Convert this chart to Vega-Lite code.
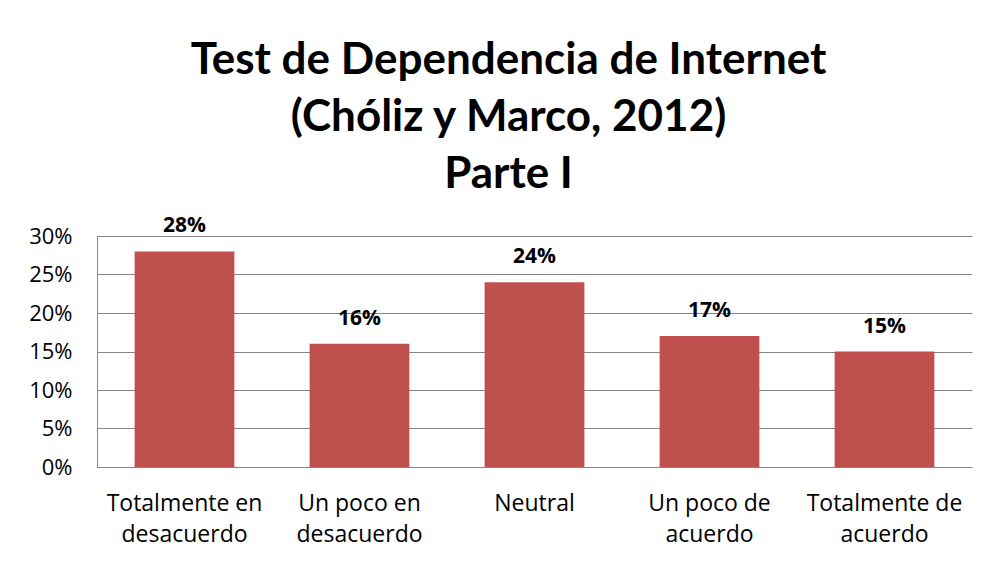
{
  "$schema": "https://vega.github.io/schema/vega-lite/v6.json",
  "width": 875,
  "height": 231,
  "autosize": "none",
  "padding": {"left": 97, "top": 236, "right": 21, "bottom": 95},
  "background": "white",
  "title": {
    "text": ["Test de Dependencia de Internet", "(Chóliz y Marco, 2012)", "Parte I"],
    "font": "Lato",
    "fontSize": 44,
    "fontWeight": "bold",
    "color": "#000000",
    "lineHeight": 57,
    "anchor": "middle",
    "dx": -26,
    "offset": 18
  },
  "data": {
    "values": [
      {"categoria": "Totalmente en desacuerdo", "porcentaje": 0.28},
      {"categoria": "Un poco en desacuerdo", "porcentaje": 0.16},
      {"categoria": "Neutral", "porcentaje": 0.24},
      {"categoria": "Un poco de acuerdo", "porcentaje": 0.17},
      {"categoria": "Totalmente de acuerdo", "porcentaje": 0.15}
    ]
  },
  "encoding": {
    "x": {
      "field": "categoria",
      "type": "nominal",
      "sort": null,
      "scale": {"paddingInner": 0.43, "paddingOuter": 0.215},
      "axis": {
        "title": null,
        "labelAngle": 0,
        "labelFont": "Open Sans",
        "labelFontSize": 23,
        "labelColor": "#000000",
        "labelLineHeight": 31,
        "labelPadding": 25,
        "ticks": false,
        "domainColor": "#868686",
        "labelExpr": "datum.value == 'Totalmente en desacuerdo' ? ['Totalmente en', 'desacuerdo'] : datum.value == 'Un poco en desacuerdo' ? ['Un poco en', 'desacuerdo'] : datum.value == 'Un poco de acuerdo' ? ['Un poco de', 'acuerdo'] : datum.value == 'Totalmente de acuerdo' ? ['Totalmente de', 'acuerdo'] : datum.value"
      }
    },
    "y": {
      "field": "porcentaje",
      "type": "quantitative",
      "scale": {"domain": [0, 0.3], "nice": false},
      "axis": {
        "title": null,
        "format": ".0%",
        "values": [0, 0.05, 0.1, 0.15, 0.2, 0.25, 0.3],
        "labelFont": "Open Sans",
        "labelFontSize": 22,
        "labelColor": "#000000",
        "labelPadding": 25,
        "ticks": false,
        "domainColor": "#868686",
        "gridColor": "#868686",
        "gridWidth": 1
      }
    }
  },
  "layer": [
    {"mark": {"type": "bar", "color": "#C0504D"}},
    {
      "mark": {"type": "text", "baseline": "bottom", "dy": -15, "font": "Open Sans", "fontSize": 21, "fontWeight": "bold", "color": "#000000"},
      "encoding": {"text": {"field": "porcentaje", "format": ".0%"}}
    }
  ],
  "config": {"view": {"stroke": null}}
}
